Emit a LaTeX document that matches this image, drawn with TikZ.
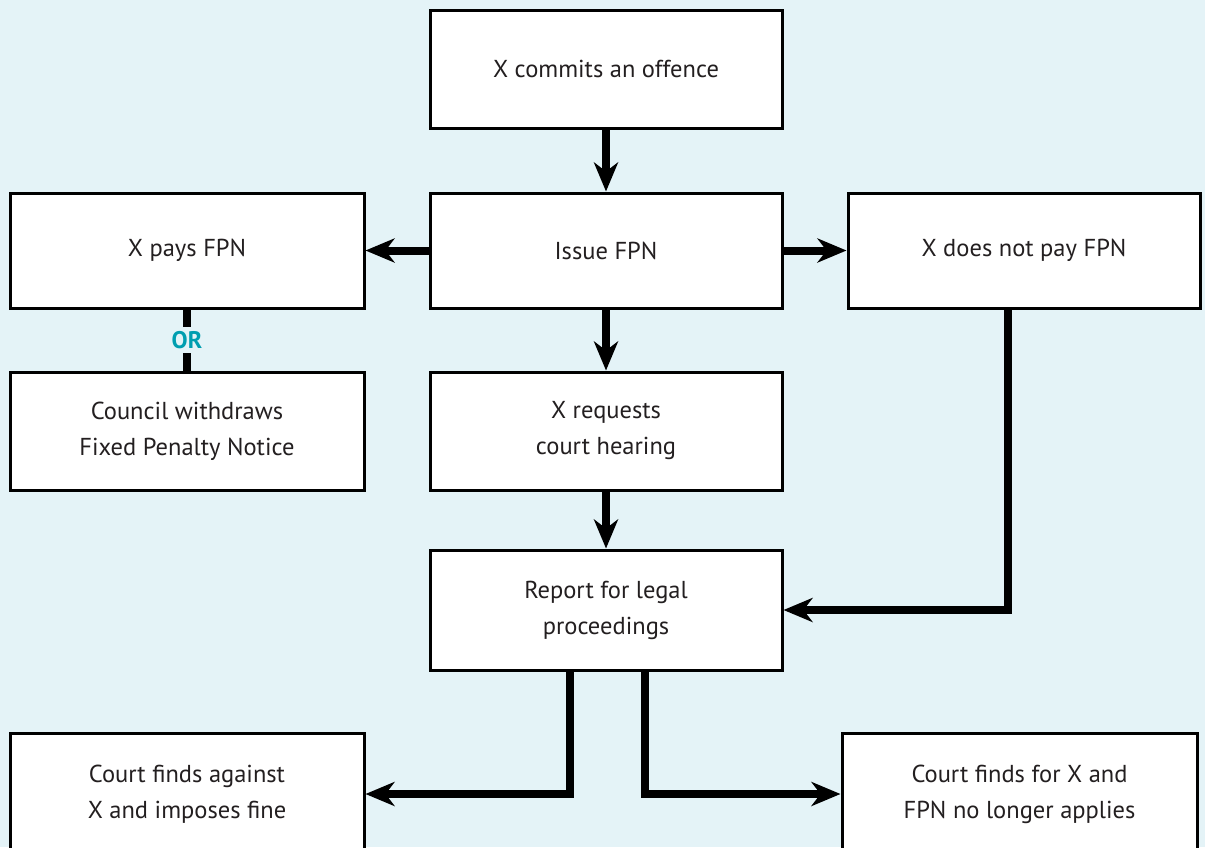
\documentclass[tikz,border=0pt]{standalone}
\usepackage{fontspec}
\setmainfont{PT Sans}
\usetikzlibrary{arrows.meta,calc}
\definecolor{bg}{HTML}{E4F3F7}
\definecolor{orc}{HTML}{009EB0}
\definecolor{txt}{HTML}{231F20}
\begin{document}
\begin{tikzpicture}[x=1pt,y=-1pt,
  box/.style={draw=black,line width=3pt,fill=white,minimum width=352pt,align=center,
    text=txt,font=\fontsize{24.5}{36}\selectfont,inner sep=0pt},
  arr/.style={line width=8pt,-{Stealth[length=29pt,width=24pt,inset=9pt]}},
  plain/.style={line width=8pt}]
\fill[bg] (0,0) rectangle (1205,847);
\useasboundingbox (0,0) rectangle (1205,847);
\begin{scope}
\clip (0,0) rectangle (1205,847);
\node[box,minimum height=118pt] (off) at (606,69) {X commits an offence};
\node[box,minimum height=115pt] (issue) at (606,250.5) {Issue FPN};
\node[box,minimum height=115pt,minimum width=354pt] (pays) at (187,250.5) {X pays FPN};
\node[box,minimum height=115pt] (notpay) at (1024,250.5) {X does not pay FPN};
\node[box,minimum height=118pt,minimum width=354pt] (council) at (187,431) {Council withdraws\\Fixed Penalty Notice};
\node[box,minimum height=118pt] (req) at (606,431) {X requests\\court hearing};
\node[box,minimum height=120pt] (report) at (606,610) {Report for legal\\proceedings};
\node[box,minimum height=122pt,minimum width=354pt] (against) at (187,794) {Court finds against\\X and imposes fine};
\node[box,minimum height=122pt,minimum width=355pt] (forx) at (1019.5,794) {Court finds for X and\\FPN no longer applies};
\end{scope}
\draw[arr] (off) -- (issue);
\draw[arr] (issue) -- (pays);
\draw[arr] (issue) -- (notpay);
\draw[arr] (issue) -- (req);
\draw[arr] (req) -- (report);
\draw[arr] ([xshift=-16pt]notpay.south) |- (report.east);
\draw[arr] ([xshift=-36pt]report.south) |- (against.east);
\draw[arr] ([xshift=39pt]report.south) |- (forx.west);
\draw[plain] (pays) -- node[fill=bg,inner xsep=2pt,inner ysep=4pt,text=orc,font=\fontsize{24}{24}\selectfont\bfseries] (or) {OR} (council);
\end{tikzpicture}
\end{document}
